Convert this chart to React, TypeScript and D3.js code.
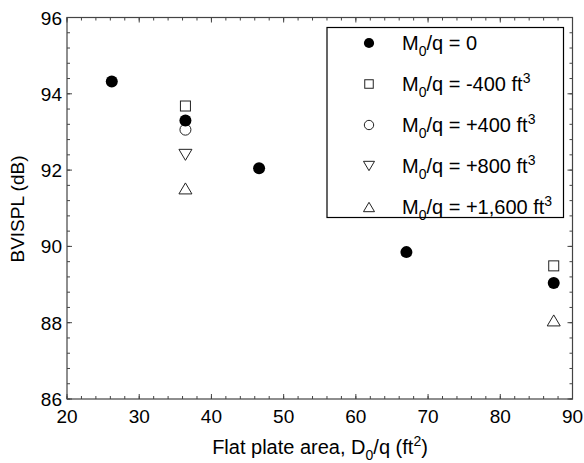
import React from "react";
import * as d3 from "d3";

const W = 584;
const H = 463;

const xTicks = [20, 30, 40, 50, 60, 70, 80, 90];
const yTicks = [86, 88, 90, 92, 94, 96];

const seriesNames = ["0", "-400 ft", "+400 ft", "+800 ft", "+1,600 ft"];
const seriesSup = ["", "3", "3", "3", "3"];
const seriesSymbols = ["filledCircle", "square", "circle", "triangleDown", "triangleUp"];

const filledX = [26.2, 36.4, 46.6, 67.0, 87.4];
const filledY = [94.32, 93.3, 92.05, 89.85, 89.04];
const squareX = [36.4, 87.4];
const squareY = [93.68, 89.49];
const openCircleX = [36.4];
const openCircleY = [93.06];
const downTriX = [36.4];
const downTriY = [92.4];
const upTriX = [36.4, 87.4];
const upTriY = [91.52, 88.06];

const seriesX = [filledX, squareX, openCircleX, downTriX, upTriX];
const seriesY = [filledY, squareY, openCircleY, downTriY, upTriY];

const margin = { left: 67, right: 584 - 572.5, top: 17.5, bottom: 463 - 399 };

function Marker({ kind, x, y, s }: { kind: string; x: number; y: number; s: number }) {
  const stroke = "#222";
  if (kind === "filledCircle") return <circle cx={x} cy={y} r={6 * s} fill="#000" />;
  if (kind === "circle") return <circle cx={x} cy={y} r={5.5 * s} fill="#fff" stroke={stroke} strokeWidth={1} />;
  if (kind === "square") {
    const h = 5 * s;
    return <rect x={x - h} y={y - h} width={2 * h} height={2 * h} fill="#fff" stroke={stroke} strokeWidth={1} />;
  }
  const w = 6.5 * s;
  const hh = 5.5 * s;
  const pts =
    kind === "triangleUp"
      ? [[x, y - hh], [x + w, y + hh], [x - w, y + hh]]
      : [[x, y + hh], [x + w, y - hh], [x - w, y - hh]];
  const path = d3.line()(pts as [number, number][]) + "Z";
  return <path d={path} fill="#fff" stroke={stroke} strokeWidth={1} />;
}

export default function App() {
  const x = d3.scaleLinear().domain([20, 90]).range([margin.left, W - margin.right]);
  const y = d3.scaleLinear().domain([86, 96]).range([H - margin.bottom, margin.top]);
  const axisColor = "#444";
  const font = "Liberation Sans, Arial, sans-serif";
  const xMinor = d3.range(20, 90.001, 2);
  const yMinor = d3.range(86, 96.001, 0.4);
  const x0 = x(20), x1 = x(90), y0 = y(86), y1 = y(96);

  const legX = 327, legY = 27.5, legW = 236.5, legH = 190;

  return (
    <svg width={W} height={H} style={{ position: "absolute", left: 0, top: 0, background: "#fff" }} fontFamily={font}>
      <rect x={0} y={0} width={W} height={H} fill="#fff" />
      {xMinor.map((v, i) => (
        <g key={"xm" + i} stroke={axisColor} strokeWidth={1}>
          <line x1={x(v)} x2={x(v)} y1={y0} y2={y0 - 3} />
          <line x1={x(v)} x2={x(v)} y1={y1} y2={y1 + 3} />
        </g>
      ))}
      {yMinor.map((v, i) => (
        <g key={"ym" + i} stroke={axisColor} strokeWidth={1}>
          <line x1={x0} x2={x0 + 3} y1={y(v)} y2={y(v)} />
          <line x1={x1} x2={x1 - 3} y1={y(v)} y2={y(v)} />
        </g>
      ))}
      {xTicks.map((v) => (
        <g key={"xt" + v} stroke={axisColor} strokeWidth={1}>
          <line x1={x(v)} x2={x(v)} y1={y0} y2={y0 - 5} />
          <line x1={x(v)} x2={x(v)} y1={y1} y2={y1 + 5} />
        </g>
      ))}
      {yTicks.map((v) => (
        <g key={"yt" + v} stroke={axisColor} strokeWidth={1}>
          <line x1={x0} x2={x0 + 5} y1={y(v)} y2={y(v)} />
          <line x1={x1} x2={x1 - 5} y1={y(v)} y2={y(v)} />
        </g>
      ))}
      <rect x={x0} y={y1} width={x1 - x0} height={y0 - y1} fill="none" stroke={axisColor} strokeWidth={1.2} />
      {xTicks.map((v) => (
        <text key={"xl" + v} x={x(v)} y={y0 + 24} textAnchor="middle" fontSize={19} fill="#000">
          {v}
        </text>
      ))}
      {yTicks.map((v) => (
        <text key={"yl" + v} x={x0 - 5} y={y(v) + 7} textAnchor="end" fontSize={19} fill="#000">
          {v}
        </text>
      ))}
      <text x={320} y={454} textAnchor="middle" fontSize={20} fill="#000">
        Flat plate area, D<tspan dy={6} fontSize={14}>0</tspan>
        <tspan dy={-6}>/q (ft</tspan>
        <tspan dy={-8} fontSize={14}>2</tspan>
        <tspan dy={8}>)</tspan>
      </text>
      <text transform={`translate(24,209) rotate(-90)`} textAnchor="middle" fontSize={19} fill="#000">
        BVISPL (dB)
      </text>
      {[1, 2, 3, 4, 0].map((si) =>
        seriesX[si].map((vx, j) => (
          <Marker key={si + "-" + j} kind={seriesSymbols[si]} x={x(vx)} y={y(seriesY[si][j])} s={1} />
        ))
      )}
      <rect x={legX} y={legY} width={legW} height={legH} fill="#fff" stroke="#000" strokeWidth={1.2} />
      {seriesNames.map((name, i) => {
        const base = 50 + i * 41;
        return (
          <g key={"lg" + i}>
            <Marker kind={seriesSymbols[i]} x={369} y={base - 7} s={0.85} />
            <text x={402} y={base} fontSize={20} fill="#000">
              M<tspan dy={6} fontSize={14}>0</tspan>
              <tspan dy={-6}>{"/q = " + name}</tspan>
              {seriesSup[i] ? <tspan dy={-8} fontSize={14}>{seriesSup[i]}</tspan> : null}
            </text>
          </g>
        );
      })}
    </svg>
  );
}
